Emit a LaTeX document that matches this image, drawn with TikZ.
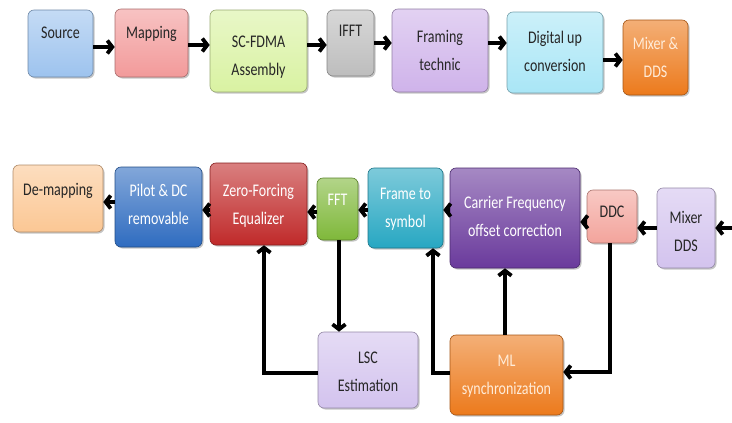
\documentclass[tikz,border=0pt]{standalone}
\usepackage{fontspec}
\usepackage{graphicx}
\setmainfont{Carlito}
\usetikzlibrary{arrows.meta,shadows}
% labels are set in a tall, narrow style
\newcommand\tallstack[1]{\scalebox{1}[1.27]{\begin{tabular}{@{}c@{}}#1\end{tabular}}}
\tikzset{
  blk/.style={draw=#1!70!black, line width=0.6pt, rounded corners=6pt,
    top color=#1!60!white, bottom color=#1, inner sep=0pt,
    drop shadow={shadow xshift=1.5pt, shadow yshift=-1.5pt, fill=black!45, opacity=0.5}},
  txt/.style={font=\fontsize{14}{22}\selectfont, inner sep=0pt, text=#1},
  txt/.default=black!85,
  arr/.style={line width=3.8pt, -{Straight Barb[length=5pt,width=13pt]}},
}
\definecolor{cSrc}{HTML}{9DC3EE}
\definecolor{cMap}{HTML}{F29A9A}
\definecolor{cScf}{HTML}{D9F2A2}
\definecolor{cIfft}{HTML}{BDBDBD}
\definecolor{cFrm}{HTML}{CFB3EA}
\definecolor{cDuc}{HTML}{A9E6F6}
\definecolor{cOrg}{HTML}{EC7A1C}
\definecolor{cDem}{HTML}{FBC794}
\definecolor{cPil}{HTML}{2F6CC0}
\definecolor{cZf}{HTML}{C02A2A}
\definecolor{cFft}{HTML}{7FB83A}
\definecolor{cF2s}{HTML}{27A7C2}
\definecolor{cCfo}{HTML}{6A3A9C}
\definecolor{cDdc}{HTML}{F3A49C}
\definecolor{cLav}{HTML}{D3C3EE}
\begin{document}
\begin{tikzpicture}[x=1pt,y=-1pt]
\useasboundingbox (0,0) rectangle (732,423);

% transmitter chain
\node[blk=cSrc,  minimum width=65pt, minimum height=67pt] (src)  at (60.5,43.5) {};
\node[blk=cMap,  minimum width=73pt, minimum height=68pt] (map)  at (151.5,43) {};
\node[blk=cScf,  minimum width=97pt, minimum height=82pt] (scf)  at (258.5,51) {};
\node[blk=cIfft, minimum width=47pt, minimum height=66pt] (ifft) at (350.5,43) {};
\node[blk=cFrm,  minimum width=96pt, minimum height=83pt] (frm)  at (440,50.5) {};
\node[blk=cDuc,  minimum width=96pt, minimum height=81pt] (duc)  at (555,52.5) {};
\node[blk=cOrg,  minimum width=65pt, minimum height=75pt] (mixa) at (655.5,57.5) {};

\node[txt] (srcT)  at (60.5,33) {\tallstack{Source}};
\node[txt] (mapT)  at (151.5,33) {\tallstack{Mapping}};
\node[txt] (scfT)  at (258.5,56) {\tallstack{SC-FDMA\\Assembly}};
\node[txt] (ifftT) at (350.5,31) {\tallstack{IFFT}};
\node[txt] (frmT)  at (440,50.5) {\tallstack{Framing\\technic}};
\node[txt] (ducT)  at (555,52) {\tallstack{Digital up\\conversion}};
\node[txt=white!85!orange] (mixaT) at (655.5,57.5) {\tallstack{Mixer \&\\DDS}};

\draw[arr] (src.east |- 0,47)  -- (map.west |- 0,47);
\draw[arr] (map.east |- 0,45)  -- (scf.west |- 0,45);
\draw[arr] (scf.east |- 0,45)  -- (ifft.west |- 0,45);
\draw[arr] (ifft.east |- 0,43) -- (frm.west |- 0,43);
\draw[arr] (frm.east |- 0,43)  -- (duc.west |- 0,43);
\draw[arr] (duc.east |- 0,60)  -- (mixa.west |- 0,60);

% receiver chain
\node[blk=cDem, minimum width=90pt,  minimum height=67pt]  (dem)  at (58,198.5) {};
\node[blk=cPil, minimum width=87pt,  minimum height=80pt]  (pil)  at (158.5,207) {};
\node[blk=cZf,  minimum width=97pt,  minimum height=82pt]  (zf)   at (258.5,204) {};
\node[blk=cFft, minimum width=41pt,  minimum height=62pt]  (fft)  at (337.5,209) {};
\node[blk=cF2s, minimum width=75pt,  minimum height=80pt]  (f2s)  at (405.5,208) {};
\node[blk=cCfo, minimum width=130pt, minimum height=100pt] (cfo)  at (515,218) {};
\node[blk=cDdc, minimum width=50pt,  minimum height=53pt]  (ddc)  at (612,216.5) {};
\node[blk=cLav, minimum width=58pt,  minimum height=80pt]  (mixb) at (686,228) {};
\node[blk=cLav, minimum width=100pt, minimum height=76pt]  (lsc)  at (368,370) {};
\node[blk=cOrg, minimum width=113pt, minimum height=80pt]  (ml)   at (506.5,375) {};

\node[txt] (demT)  at (58,190) {\tallstack{De-mapping}};
\node[txt=white] (pilT)  at (158.5,204.5) {\tallstack{Pilot \& DC\\removable}};
\node[txt=white] (zfT)   at (258.5,205) {\tallstack{Zero-Forcing\\Equalizer}};
\node[txt=white] (fftT)  at (337.5,200) {\tallstack{FFT}};
\node[txt=white] (f2sT)  at (405.5,207.5) {\tallstack{Frame to\\symbol}};
\node[txt=white] (cfoT)  at (515,217) {\tallstack{Carrier Frequency\\offset correction}};
\node[txt] (ddcT)  at (612,212) {\tallstack{DDC}};
\node[txt] (mixbT) at (686,232) {\tallstack{Mixer\\DDS}};
\node[txt] (lscT)  at (368,371.5) {\tallstack{LSC\\Estimation}};
\node[txt=white!85!orange] (mlT) at (506.5,375) {\tallstack{ML\\synchronization}};

\coordinate (rxin) at (732,228);
\draw[arr] (rxin) -- (mixb.east |- rxin);
\draw[arr] (mixb.west |- 0,228) -- (ddc.east |- 0,228);
\draw[arr] (ddc.west |- 0,222)  -- (cfo.east |- 0,222);
\draw[arr] (cfo.west |- 0,210)  -- (f2s.east |- 0,210);
\draw[arr] (f2s.west |- 0,210)  -- (fft.east |- 0,210);
\draw[arr] (fft.west |- 0,212)  -- (zf.east |- 0,212);
\draw[arr] (zf.west |- 0,210)   -- (pil.east |- 0,210);
\draw[arr] (pil.west |- 0,202)  -- (dem.east |- 0,202);

% estimation and synchronisation feedback
\draw[arr] (fft.south -| 339,0) -- (lsc.north -| 339,0);
\draw[arr] (lsc.west |- 0,373) -- (264,373) -- (zf.south -| 264,0);
\draw[arr] (ml.west |- 0,373) -- (433,373) -- (f2s.south -| 433,0);
\draw[arr] (ml.north -| 505,0) -- (cfo.south -| 505,0);
\draw[arr] (ddc.south -| 610,0) -- (610,372) -- (ml.east |- 0,372);
\end{tikzpicture}
\end{document}
